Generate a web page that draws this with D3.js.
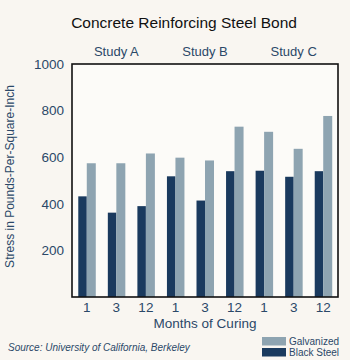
<!DOCTYPE html>
<html>
<head>
<meta charset="utf-8">
<script src="https://cdn.jsdelivr.net/npm/d3@7"></script>
<style>
  html, body { margin: 0; padding: 0; background: #f9f6f1; }
  svg { display: block; font-family: "Liberation Sans", Arial, sans-serif; }
</style>
</head>
<body>
<svg id="chart"></svg>
<script>
// Concrete reinforcing steel bond — grouped bars

const months = ["1", "3", "12"];
const studies = ["Study A", "Study B", "Study C"];
const blackSteel = [432, 362, 390, 518, 414, 540, 542, 516, 540];
const galvanized = [574, 574, 616, 598, 586, 731, 709, 636, 777];
const yTicks = [200, 400, 600, 800, 1000];

const W = 350, H = 360;
const M = { top: 64, right: 12, bottom: 63, left: 72 };
const innerW = W - M.left - M.right;
const innerH = H - M.top - M.bottom;

const BLACK = "#1a3a5e";
const GALV = "#8ea4b1";
const INK = "#2b4868";

const svg = d3.select("#chart").attr("width", W).attr("height", H);

// title
svg.append("text")
  .attr("x", 184).attr("y", 28)
  .attr("text-anchor", "middle")
  .attr("font-size", 15.5)
  .attr("fill", "#111")
  .text("Concrete Reinforcing Steel Bond");

const g = svg.append("g").attr("transform", `translate(${M.left},${M.top})`);

// one band per (study, month) pair
const keys = [];
studies.forEach((s, si) => months.forEach((m, mi) => keys.push(si * 3 + mi)));

const x = d3.scaleBand().domain(keys).range([0, innerW]).paddingInner(0).paddingOuter(0);
const y = d3.scaleLinear().domain([0, 1000]).range([innerH, 0]);
const pair = 17;

g.append("rect")
  .attr("width", innerW).attr("height", innerH)
  .attr("fill", "#fcfbf8");

keys.forEach(k => {
  const cx = x(k) + x.bandwidth() / 2;
  g.append("rect")
    .attr("x", cx - pair / 2).attr("width", pair / 2)
    .attr("y", y(blackSteel[k])).attr("height", innerH - y(blackSteel[k]))
    .attr("fill", BLACK);
  g.append("rect")
    .attr("x", cx).attr("width", pair / 2 + 0.5)
    .attr("y", y(galvanized[k])).attr("height", innerH - y(galvanized[k]))
    .attr("fill", GALV);
});

// frame
g.append("rect")
  .attr("width", innerW).attr("height", innerH)
  .attr("fill", "none").attr("stroke", "#111").attr("stroke-width", 1.6);

// y axis labels
const yAxis = g.append("g")
  .call(d3.axisLeft(y).tickValues(yTicks).tickSize(0).tickPadding(8).tickFormat(d3.format("d")));
yAxis.select(".domain").remove();
yAxis.selectAll("text").attr("font-size", 13.5).attr("fill", INK)
  .attr("font-family", "Liberation Sans, Arial, sans-serif");

// x axis labels
const xAxis = g.append("g")
  .attr("transform", `translate(0,${innerH})`)
  .call(d3.axisBottom(x).tickSize(0).tickPadding(5).tickFormat(k => months[k % 3]));
xAxis.select(".domain").remove();
xAxis.selectAll("text").attr("font-size", 13.5).attr("fill", INK)
  .attr("font-family", "Liberation Sans, Arial, sans-serif");

// study labels over each group
studies.forEach((s, si) => {
  const cx = (x(si * 3) + x(si * 3 + 2) + x.bandwidth()) / 2;
  g.append("text")
    .attr("x", cx).attr("y", -8)
    .attr("text-anchor", "middle")
    .attr("font-size", 13).attr("fill", INK)
    .text(s);
});

// axis titles
g.append("text")
  .attr("x", innerW / 2).attr("y", innerH + 31)
  .attr("text-anchor", "middle")
  .attr("font-size", 13.5).attr("fill", INK)
  .text("Months of Curing");

svg.append("text")
  .attr("transform", `translate(14,${M.top + innerH / 2 - 4}) rotate(-90)`)
  .attr("text-anchor", "middle")
  .attr("font-size", 12).attr("fill", INK)
  .text("Stress in Pounds-Per-Square-Inch");

// source note
svg.append("text")
  .attr("x", 8).attr("y", 351)
  .attr("font-size", 10).attr("font-style", "italic").attr("fill", INK)
  .text("Source: University of California, Berkeley");

// legend
const legend = [
  { label: "Galvanized", color: GALV },
  { label: "Black Steel", color: BLACK }
];
legend.forEach((d, i) => {
  svg.append("rect")
    .attr("x", 262).attr("y", 337 + i * 11)
    .attr("width", 24).attr("height", 8.5)
    .attr("fill", d.color);
  svg.append("text")
    .attr("x", 289).attr("y", 341.5 + i * 11)
    .attr("dy", "0.35em")
    .attr("font-size", 10).attr("fill", INK)
    .text(d.label);
});
</script>
</body>
</html>
